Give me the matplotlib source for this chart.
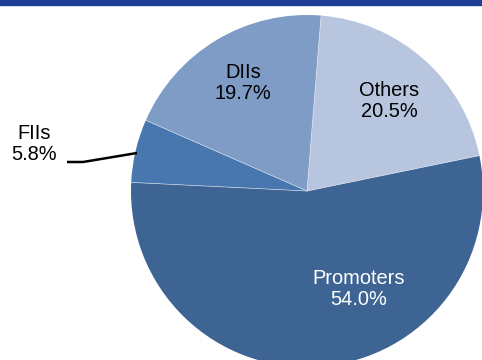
import matplotlib
matplotlib.use("Agg")
import numpy as np
import matplotlib.pyplot as plt
from matplotlib.patches import Rectangle

categories = ["Promoters", "FIIs", "DIIs", "Others"]
shares = [54.0, 5.8, 19.7, 20.5]
colors = ["#3e6494", "#4876ae", "#7f9cc6", "#b7c5de"]

W, H = 482, 360
cx, cy, r = 307, 191, 176

fig = plt.figure(figsize=(W / 100, H / 100), dpi=100)
ax = fig.add_axes([(cx - r) / W, (H - cy - r) / H, 2 * r / W, 2 * r / H])
wedges, _ = ax.pie(shares, colors=colors, startangle=11.6, counterclock=False, radius=1,
                   wedgeprops=dict(linewidth=0))
# thin light separators along the radial edges only
for w in wedges:
    t = np.deg2rad(w.theta1)
    ax.plot([0, np.cos(t)], [0, np.sin(t)], color="#dfe6f0", lw=0.5, alpha=0.8)
ax.set_xlim(-1, 1)
ax.set_ylim(-1, 1)
ax.set_aspect("equal")
ax.axis("off")

font = dict(family=["Liberation Sans", "DejaVu Sans"], fontsize=14.4, linespacing=1.15,
            ha="center", va="center")

def px(x, y):
    return ((x - cx) / r, (cy - y) / r)

label_pos = {"Promoters": (359, 289), "FIIs": (34, 144), "DIIs": (243, 83), "Others": (389, 101)}
label_col = {"Promoters": "white", "FIIs": "black", "DIIs": "black", "Others": "black"}
for cat, val in zip(categories, shares):
    x, y = px(*label_pos[cat])
    ax.text(x, y, f"{cat}\n{val:.1f}%", color=label_col[cat], clip_on=False, **font)

# leader line for FIIs
pts = [px(67, 162), px(83, 162), px(137, 153)]
ax.plot([p[0] for p in pts], [p[1] for p in pts], color="black", lw=1.8,
        clip_on=False, solid_capstyle="butt")

# top bar
fig.patches.append(Rectangle((0, 1 - 5 / H), 1, 5 / H, transform=fig.transFigure,
                             color="#1c3f94", zorder=10))

fig.savefig("out.png", dpi=100)
